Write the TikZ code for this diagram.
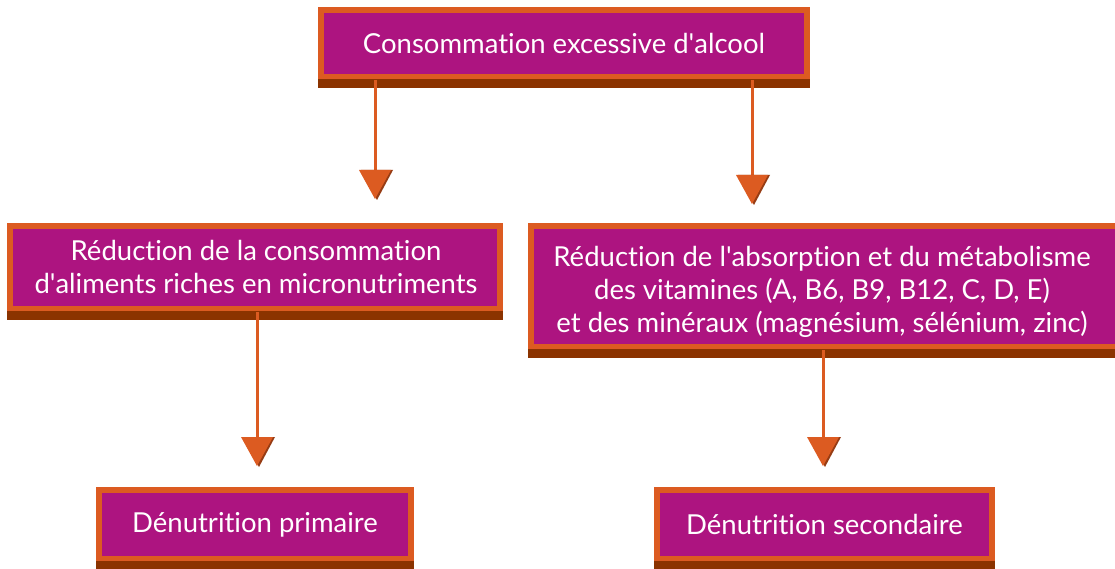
\documentclass[tikz,border=0pt]{standalone}
\usepackage{fontspec}
\setmainfont{Lato}[Ligatures={NoCommon}]
\usetikzlibrary{calc}
\definecolor{boxfill}{RGB}{173,20,128}
\definecolor{boxedge}{RGB}{220,91,33}
\definecolor{boxshadow}{RGB}{139,51,0}
\definecolor{arrowshadow}{RGB}{150,60,20}
\newcommand{\q}{\textquotesingle}
\tikzset{
  x=1pt,y=-1pt,
  fbox/.style={draw=boxedge,fill=boxfill,line width=6pt,inner sep=0pt,
    text=white,align=center,font=\fontsize{27.5}{33}\selectfont},
  conn/.style={draw=boxedge,line width=3pt},
}
\newcommand{\boxshadow}[1]{%
  \fill[boxshadow] ($(#1.south west)+(0,-1)$) rectangle ($(#1.south east)+(0,8)$);}
\newcommand{\arrowhead}[1]{%
  \fill[arrowshadow] ($(#1)+(-14,-29)$) -- ($(#1)+(18,-29)$) -- ($(#1)+(2,1)$) -- cycle;
  \fill[boxedge] ($(#1)+(-16,-29)$) -- ($(#1)+(16,-29)$) -- (#1) -- cycle;}
\begin{document}
\begin{tikzpicture}
\useasboundingbox (0,0) rectangle (1115,569);
% boxes
\node[fbox,minimum width=486pt,minimum height=67pt] (top) at (564,43.5) {};
\node[fbox,minimum width=490pt,minimum height=83pt] (lmid) at (255,267.5) {};
\node[fbox,minimum width=591pt,minimum height=121pt] (rmid) at (826.5,286.5) {};
\node[fbox,minimum width=312pt,minimum height=69pt] (lbot) at (255,524.5) {};
\node[fbox,minimum width=335pt,minimum height=69pt] (rbot) at (824.5,524.5) {};
\boxshadow{top}
\boxshadow{lmid}
\boxshadow{rmid}
\boxshadow{lbot}
\boxshadow{rbot}
% texts
\node[fbox,draw=none,fill=none] (ttop) at (564,43.5) {Consommation excessive d\q alcool};
\node[fbox,draw=none,fill=none] (tlmid) at (256,267) {Réduction de la consommation\\d\q aliments riches en micronutriments};
\node[fbox,draw=none,fill=none] (trmid) at (822,292) {Réduction de l\q absorption et du métabolisme\\des vitamines (A, B6, B9, B12, C, D, E)\\et des minéraux (magnésium, sélénium, zinc)};
\node[fbox,draw=none,fill=none] (tlbot) at (255,524.5) {Dénutrition primaire};
\node[fbox,draw=none,fill=none] (trbot) at (824.5,524.5) {Dénutrition secondaire};
% connectors
\coordinate (t1) at (375,199);
\coordinate (t2) at (752,204);
\coordinate (t3) at (257,466);
\coordinate (t4) at (823,466);
\draw[conn] (top.south -| t1) -- ($(t1)+(0,-28)$);
\draw[conn] (top.south -| t2) -- ($(t2)+(0,-28)$);
\draw[conn] (lmid.south -| t3) -- ($(t3)+(0,-28)$);
\draw[conn] (rmid.south -| t4) -- ($(t4)+(0,-28)$);
\arrowhead{t1}
\arrowhead{t2}
\arrowhead{t3}
\arrowhead{t4}
\end{tikzpicture}
\end{document}
